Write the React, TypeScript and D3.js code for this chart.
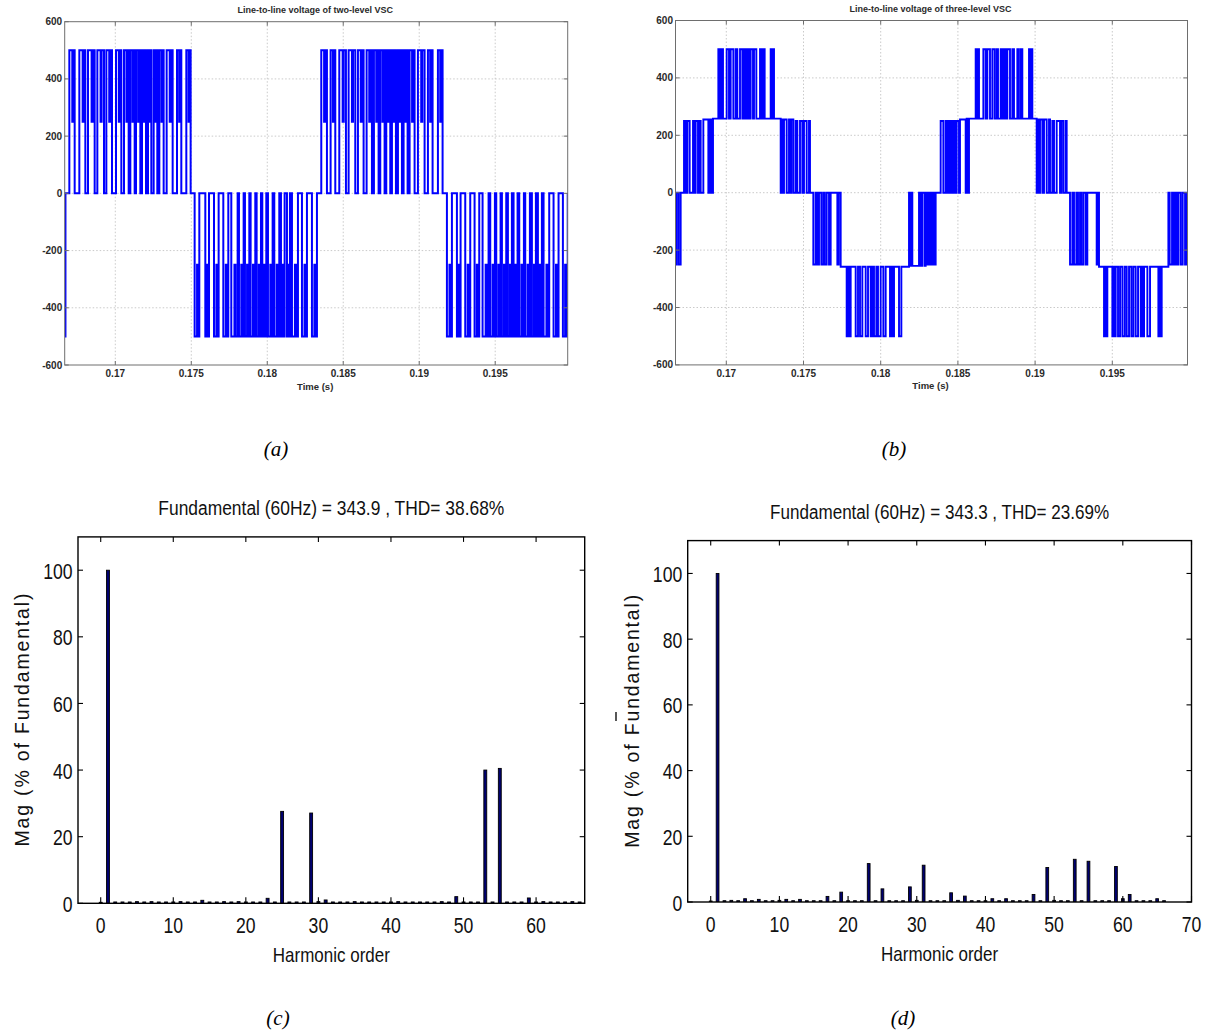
import React from "react";
import * as d3 from "d3";

// ---------------- DATA ----------------
// time axis (ms) and labels (s)
const timeTicks = [170, 175, 180, 185, 190, 195];
const timeTickLabels = ["0.17", "0.175", "0.18", "0.185", "0.19", "0.195"];
const voltTicks = [-600, -400, -200, 0, 200, 400, 600];
const voltTickLabels = ["-600", "-400", "-200", "0", "200", "400", "600"];

// two-level VSC: pulses [on, off, half-level dip] in ms, per half cycle
const twoLevelStart = [[166.67, 166.72]];
const twoLevelPos1 = [[166.975, 167.326, 167.17], [167.633, 168.028, 167.85], [168.204, 168.642, 168.44], [168.818, 169.256, 169.03], [169.41, 169.782, 169.6], [170.046, 170.397, 170.23], [170.572, 170.879, 170.73], [170.989, 171.274, 171.13], [171.362, 171.647, 171.5], [171.756, 172.019, 171.89], [172.151, 172.37, 172.26], [172.524, 172.765, 172.64], [172.897, 173.182, 173.04], [173.379, 173.774, 173.58], [174.059, 174.344, 174.2], [174.673, 174.958, 174.82]];
const twoLevelNeg1 = [[175.221, 175.528, 175.38], [175.923, 176.164, 176.04], [176.493, 176.8, 176.65], [177.107, 177.436, 177.27], [177.633, 178.05, 177.84], [178.138, 178.445, 178.29], [178.532, 178.818, 178.67], [178.905, 179.212, 179.06], [179.3, 179.585, 179.44], [179.673, 179.936, 179.8], [180.046, 180.353, 180.2], [180.462, 180.791, 180.62], [180.901, 181.142, 181.02], [181.296, 181.493, 181.39], [181.625, 182.019, 181.82], [182.283, 182.611, 182.45], [182.94, 183.269, 183.1]];
const twoLevelPos2 = [[183.554, 183.927, 183.74], [184.168, 184.476, 184.32], [184.739, 185.177, 184.96], [185.353, 185.791, 185.57], [185.967, 186.34, 186.15], [186.537, 186.888, 186.71], [187.019, 187.326, 187.17], [187.436, 187.721, 187.58], [187.831, 188.094, 187.96], [188.204, 188.467, 188.33], [188.599, 188.862, 188.73], [188.971, 189.234, 189.1], [189.366, 189.695, 189.53], [189.914, 190.353, 190.13], [190.572, 190.879, 190.72], [191.23, 191.537, 191.38]];
const twoLevelNeg2 = [[191.822, 192.151, 191.99], [192.48, 192.721, 192.6], [193.028, 193.357, 193.19], [193.642, 193.949, 193.79], [194.168, 194.563, 194.37], [194.673, 194.98, 194.83], [195.068, 195.353, 195.21], [195.441, 195.726, 195.58], [195.835, 196.098, 195.97], [196.208, 196.471, 196.34], [196.581, 196.888, 196.73], [196.975, 197.282, 197.13], [197.414, 197.677, 197.55], [197.809, 198.072, 197.94], [198.182, 198.554, 198.37], [198.839, 199.168, 199.0], [199.454, 199.77, 199.6]];
const twoLevelLevels = [-500, 500, -500, 500, -500];

// three-level VSC: step points [t ms, volts]
const threeLevelRise1 = [[166.71, -250], [166.786, 0], [166.915, -250], [167.045, 0], [167.261, 250], [167.369, 0], [167.477, 250], [167.628, 0], [167.844, 250], [167.951, 0], [168.016, 250], [168.167, 0], [168.232, 250], [168.34, 0], [168.513, 255], [168.837, 0], [168.923, 255], [169.031, 0], [169.139, 258]];
const threeLevelTop1 = [[169.484, 500], [169.571, 258], [169.679, 500], [169.786, 258], [170.024, 500], [170.175, 258], [170.283, 500], [170.456, 258], [170.607, 500], [170.715, 258], [170.888, 500], [171.039, 258], [171.147, 500], [171.255, 258], [171.363, 500], [171.471, 258], [171.578, 500], [171.729, 258], [171.794, 500], [171.946, 258], [172.183, 500], [172.269, 258], [172.377, 500], [172.485, 258], [172.874, 500], [172.939, 258], [173.025, 500], [173.09, 258]];
const threeLevelFall1 = [[173.522, 0], [173.587, 255], [173.673, 0], [173.737, 255], [173.91, 0], [174.061, 255], [174.126, 0], [174.212, 255], [174.342, 0], [174.493, 250], [174.601, 0], [174.774, 250], [174.925, 0], [175.032, 250], [175.205, 0], [175.356, 250], [175.421, 0], [175.636, -250], [175.788, 0], [175.896, -250], [176.004, 0], [176.155, -250], [176.285, 0], [176.371, -250], [176.501, 0], [176.652, -250], [176.76, 0], [177.192, -250], [177.278, 0], [177.408, -258]];
const threeLevelBottom1 = [[177.796, -500], [177.882, -258], [177.968, -500], [178.055, -258], [178.379, -500], [178.53, -258], [178.66, -500], [178.811, -258], [179.027, -500], [179.178, -258], [179.351, -500], [179.458, -258], [179.566, -500], [179.717, -258], [179.825, -500], [179.998, -258], [180.171, -500], [180.322, -258], [180.603, -500], [180.689, -258], [180.776, -500], [180.862, -258], [181.186, -500], [181.337, -258]];
const threeLevelRise2 = [[181.833, 0], [181.898, -255], [181.984, 0], [182.049, -255], [182.481, 0], [182.589, -255], [182.697, 0], [182.848, -255], [182.913, 0], [183.02, -250], [183.128, 0], [183.236, -250], [183.344, 0], [183.452, -250], [183.56, 0], [183.884, 250], [184.057, 0], [184.208, 250], [184.316, 0], [184.424, 250], [184.532, 0], [184.64, 250], [184.705, 0], [184.791, 250], [184.855, 0], [184.92, 250], [185.071, 0], [185.136, 255], [185.503, 0], [185.568, 258], [185.654, 0], [185.719, 258]];
const threeLevelTop2 = [[186.151, 500], [186.216, 258], [186.302, 500], [186.367, 258], [186.648, 500], [186.799, 258], [186.907, 500], [187.079, 258], [187.23, 500], [187.381, 258], [187.511, 500], [187.597, 258], [187.77, 500], [187.878, 258], [187.986, 500], [188.093, 258], [188.201, 500], [188.374, 258], [188.525, 500], [188.633, 258], [188.849, 500], [188.935, 258], [189.065, 500], [189.173, 258], [189.605, 500], [189.67, 258], [189.756, 500], [189.821, 258]];
const threeLevelFall2 = [[190.102, 0], [190.167, 255], [190.253, 0], [190.318, 255], [190.469, 0], [190.577, 255], [190.75, 0], [190.901, 255], [190.966, 0], [191.117, 250], [191.225, 0], [191.398, 250], [191.613, 0], [191.7, 250], [191.829, 0], [191.98, 250], [192.045, 0], [192.261, -250], [192.412, 0], [192.52, -250], [192.671, 0], [192.779, -250], [192.908, 0], [192.995, -250], [193.124, 0], [193.275, -250], [193.383, 0], [193.988, -250], [194.074, 0], [194.139, -258]];
const threeLevelBottom2 = [[194.463, -500], [194.528, -258], [194.614, -500], [194.679, -258], [195.003, -500], [195.068, -258], [195.154, -500], [195.219, -258], [195.37, -500], [195.5, -258], [195.651, -500], [195.802, -258], [195.932, -500], [196.083, -258], [196.234, -500], [196.364, -258], [196.515, -500], [196.666, -258], [196.839, -500], [196.904, -258], [196.99, -500], [197.055, -258], [197.271, -500], [197.443, -258], [197.983, -500], [198.048, -258], [198.134, -500], [198.199, -258]];
const threeLevelRise3 = [[198.631, 0], [198.717, -250], [198.868, 0], [198.955, -250], [199.063, 0], [199.171, -250], [199.279, 0], [199.43, -250], [199.559, 0], [199.711, -250], [199.819, 0], [199.87, 0]];

// FFT spectra (% of fundamental), harmonic order 0..66
const magTwoLevel = [0.3, 100, 0.4, 0.4, 0.4, 0.5, 0.4, 0.5, 0.4, 0.4, 0.4, 0.5, 0.4, 0.4, 0.9, 0.4, 0.4, 0.5, 0.4, 0.5, 0.4, 0.4, 0.4, 1.5, 0.4, 27.6, 0.4, 0.4, 0.4, 27.1, 0.5, 1.0, 0.4, 0.4, 0.4, 0.5, 0.4, 0.4, 0.4, 0.4, 0.4, 0.5, 0.4, 0.4, 0.4, 0.4, 0.4, 0.5, 0.4, 2.0, 0.4, 0.4, 0.4, 40.0, 0.4, 40.5, 0.4, 0.4, 0.4, 1.6, 0.4, 0.5, 0.4, 0.4, 0.4, 0.5, 0.4];
const magThreeLevel = [0.3, 100, 0.4, 0.5, 0.4, 1.0, 0.4, 0.8, 0.4, 0.4, 0.5, 0.8, 0.4, 0.8, 0.4, 0.4, 0.4, 1.7, 0.4, 3.0, 0.4, 0.4, 0.4, 11.7, 0.4, 4.0, 0.4, 0.4, 0.4, 4.6, 0.5, 11.2, 0.4, 0.4, 0.4, 2.8, 0.5, 1.8, 0.4, 0.4, 0.4, 1.0, 0.4, 1.0, 0.4, 0.4, 0.4, 2.3, 0.4, 10.5, 0.5, 0.4, 0.4, 13.0, 0.4, 12.4, 0.4, 0.4, 0.4, 10.8, 1.0, 2.3, 0.4, 0.4, 0.4, 1.0, 0.4];
const magTicks = [0, 20, 40, 60, 80, 100];
const harmTicksC = [0, 10, 20, 30, 40, 50, 60];
const harmTicksD = [0, 10, 20, 30, 40, 50, 60, 70];

const titleA = "Line-to-line voltage of two-level VSC";
const titleB = "Line-to-line voltage of three-level VSC";
const titleC = "Fundamental (60Hz) = 343.9 , THD= 38.68%";
const titleD = "Fundamental (60Hz) = 343.3 , THD= 23.69%";

// ---------------- COMPONENTS ----------------
const SANS = "'Liberation Sans', Arial, Helvetica, sans-serif";
const SERIF = "'Liberation Serif', 'Times New Roman', serif";

function WaveFrame({ xs, ys, id, title, children }: any) {
  const [x0, x1] = xs.range();
  const [y1, y0] = ys.range();
  const cx = (x0 + x1) / 2;
  return (
    <g>
      <defs>
        <clipPath id={id}>
          <rect x={x0} y={y0} width={x1 - x0} height={y1 - y0} />
        </clipPath>
      </defs>
      <rect x={x0} y={y0} width={x1 - x0} height={y1 - y0} fill="#fff" />
      {timeTicks.map((t) => (
        <line key={"gx" + t} x1={xs(t)} x2={xs(t)} y1={y0} y2={y1} stroke="#bdbdbd" strokeWidth={0.8} strokeDasharray="1.5,2" />
      ))}
      {voltTicks.slice(1, -1).map((v) => (
        <line key={"gy" + v} x1={x0} x2={x1} y1={ys(v)} y2={ys(v)} stroke="#bdbdbd" strokeWidth={0.8} strokeDasharray="1.5,2" />
      ))}
      <g clipPath={`url(#${id})`}>{children}</g>
      <rect x={x0} y={y0} width={x1 - x0} height={y1 - y0} fill="none" stroke="#6e6e6e" strokeWidth={1} />
      {timeTicks.map((t) => (
        <g key={"tx" + t}>
          <line x1={xs(t)} x2={xs(t)} y1={y1} y2={y1 - 4} stroke="#6e6e6e" />
          <line x1={xs(t)} x2={xs(t)} y1={y0} y2={y0 + 4} stroke="#6e6e6e" />
        </g>
      ))}
      {voltTicks.map((v) => (
        <g key={"ty" + v}>
          <line x1={x0} x2={x0 + 4} y1={ys(v)} y2={ys(v)} stroke="#6e6e6e" />
          <line x1={x1} x2={x1 - 4} y1={ys(v)} y2={ys(v)} stroke="#6e6e6e" />
        </g>
      ))}
      {timeTicks.map((t, i) => (
        <text key={"lx" + t} x={xs(t)} y={y1 + 12} textAnchor="middle" fontFamily={SANS} fontSize={10} fontWeight="bold" fill="#2a2a2a">
          {timeTickLabels[i]}
        </text>
      ))}
      {voltTicks.map((v, i) => (
        <text key={"ly" + v} x={x0 - 2.5} y={ys(v) + 3.5} textAnchor="end" fontFamily={SANS} fontSize={10} fontWeight="bold" fill="#2a2a2a">
          {voltTickLabels[i]}
        </text>
      ))}
      <text x={cx - 1} y={y0 - 9} textAnchor="middle" fontFamily={SANS} fontSize={9} fontWeight="bold" fill="#2a2a2a">
        {title}
      </text>
      <text x={cx - 1} y={y1 + 24.5} textAnchor="middle" fontFamily={SANS} fontSize={9.5} fontWeight="bold" fill="#2a2a2a">
        Time (s)
      </text>
    </g>
  );
}

function Spectrum({ xs, ys, mags, ticks, title, titleLen, labelX, clipId, artifact }: any) {
  const [x0, x1] = xs.range();
  const [y1, y0] = ys.range();
  const cx = (x0 + x1) / 2;
  const bw = xs(0.4) - xs(0);
  return (
    <g>
      <defs>
        <clipPath id={clipId}>
          <rect x={x0} y={y0} width={x1 - x0} height={y1 - y0} />
        </clipPath>
      </defs>
      <g clipPath={`url(#${clipId})`}>
        {mags.map((m: number, h: number) => (
          <rect key={h} x={xs(h) - bw / 2} y={ys(m)} width={bw} height={y1 - ys(m)} fill="#000070" stroke="#000" strokeWidth={0.9} />
        ))}
      </g>
      <rect x={x0} y={y0} width={x1 - x0} height={y1 - y0} fill="none" stroke="#000" strokeWidth={1.4} />
      {ticks.map((t: number) => (
        <g key={"tx" + t}>
          <line x1={xs(t)} x2={xs(t)} y1={y1} y2={y1 - 6} stroke="#000" strokeWidth={1.1} />
          <line x1={xs(t)} x2={xs(t)} y1={y0} y2={y0 + 5} stroke="#000" strokeWidth={1.1} />
          <text transform={`translate(${xs(t)},${y1 + 29.5}) scale(0.8,1)`} textAnchor="middle" fontFamily={SANS} fontSize={22} fill="#111">
            {t}
          </text>
        </g>
      ))}
      {magTicks.map((v: number) => (
        <g key={"ty" + v}>
          <line x1={x0} x2={x0 + 5} y1={ys(v)} y2={ys(v)} stroke="#000" strokeWidth={1.1} />
          <line x1={x1} x2={x1 - 5} y1={ys(v)} y2={ys(v)} stroke="#000" strokeWidth={1.1} />
          <text transform={`translate(${x0 - 5.5},${ys(v) + 8.5}) scale(0.8,1)`} textAnchor="end" fontFamily={SANS} fontSize={22} fill="#111">
            {v}
          </text>
        </g>
      ))}
      <text x={cx} y={y0 - 22} textAnchor="middle" fontFamily={SANS} fontSize={20} fill="#111" textLength={titleLen} lengthAdjust="spacingAndGlyphs">
        {title}
      </text>
      <text x={cx} y={y1 + 59} textAnchor="middle" fontFamily={SANS} fontSize={21} fill="#111" textLength={117} lengthAdjust="spacingAndGlyphs">
        Harmonic order
      </text>
      <text transform={`translate(${labelX},${(y0 + y1) / 2}) rotate(-90)`} textAnchor="middle" fontFamily={SANS} fontSize={19.5} fill="#111" textLength={253} lengthAdjust="spacing">
        Mag (% of Fundamental)
      </text>
      {artifact ? <line x1={artifact[0]} x2={artifact[0]} y1={artifact[1]} y2={artifact[1] + 9} stroke="#111" strokeWidth={1.4} /> : null}
    </g>
  );
}

export default function App() {
  // panel (a)
  const xa = d3.scaleLinear().domain([166.67, 199.77]).range([64.7, 567.7]);
  const ya = d3.scaleLinear().domain([-600, 600]).range([365, 21.7]);
  // panel (b)
  const xb = d3.scaleLinear().domain([166.71, 199.87]).range([675.5, 1187.5]);
  const yb = d3.scaleLinear().domain([-600, 600]).range([364.9, 20.5]);

  const halves = [twoLevelStart, twoLevelPos1, twoLevelNeg1, twoLevelPos2, twoLevelNeg2];
  const ptsA: [number, number][] = [[166.67, -500]];
  halves.forEach((pulses, k) => {
    const L = twoLevelLevels[k];
    pulses.forEach((p: number[], i: number) => {
      const [on, off, dip] = p;
      if (!(k === 0 && i === 0)) ptsA.push([on, 0]);
      ptsA.push([on, L]);
      if (dip !== undefined) {
        ptsA.push([dip, L], [dip, L / 2], [dip + 0.07, L / 2], [dip + 0.07, L]);
      }
      ptsA.push([off, L], [off, 0]);
    });
  });
  const lineA = d3.line<[number, number]>().x((d) => xa(d[0])).y((d) => ya(d[1]));

  const stepsB = [
    ...threeLevelRise1, ...threeLevelTop1, ...threeLevelFall1, ...threeLevelBottom1,
    ...threeLevelRise2, ...threeLevelTop2, ...threeLevelFall2, ...threeLevelBottom2, ...threeLevelRise3,
  ] as [number, number][];
  const lineB = d3.line<[number, number]>().x((d) => xb(d[0])).y((d) => yb(d[1])).curve(d3.curveStepAfter);

  // panel (c)
  const xc = d3.scaleLinear().domain([-3.13, 66.7]).range([78, 584.7]);
  const yc = d3.scaleLinear().domain([0, 110]).range([903.3, 536.9]);
  // panel (d)
  const xd = d3.scaleLinear().domain([-3.35, 70]).range([687.7, 1191.5]);
  const yd = d3.scaleLinear().domain([0, 110]).range([902, 540.6]);

  return (
    <svg width={1209} height={1034} style={{ position: "absolute", left: 0, top: 0, background: "#fff" }}>
      <rect width={1209} height={1034} fill="#fff" />
      <WaveFrame xs={xa} ys={ya} id="clipA" title={titleA}>
        <path d={lineA(ptsA) || ""} fill="none" stroke="#0000ff" strokeWidth={2} />
      </WaveFrame>
      <WaveFrame xs={xb} ys={yb} id="clipB" title={titleB}>
        <path d={lineB(stepsB) || ""} fill="none" stroke="#0000ff" strokeWidth={1.9} />
      </WaveFrame>
      <Spectrum xs={xc} ys={yc} mags={magTwoLevel} ticks={harmTicksC} title={titleC} titleLen={346} labelX={29} clipId="clipC" />
      <Spectrum xs={xd} ys={yd} mags={magThreeLevel} ticks={harmTicksD} title={titleD} titleLen={339} labelX={639} clipId="clipD" artifact={[616, 712]} />
      <text x={276} y={456} textAnchor="middle" fontFamily={SERIF} fontStyle="italic" fontSize={21}>(a)</text>
      <text x={894} y={456} textAnchor="middle" fontFamily={SERIF} fontStyle="italic" fontSize={21}>(b)</text>
      <text x={278} y={1025} textAnchor="middle" fontFamily={SERIF} fontStyle="italic" fontSize={21}>(c)</text>
      <text x={903} y={1025} textAnchor="middle" fontFamily={SERIF} fontStyle="italic" fontSize={21}>(d)</text>
    </svg>
  );
}
